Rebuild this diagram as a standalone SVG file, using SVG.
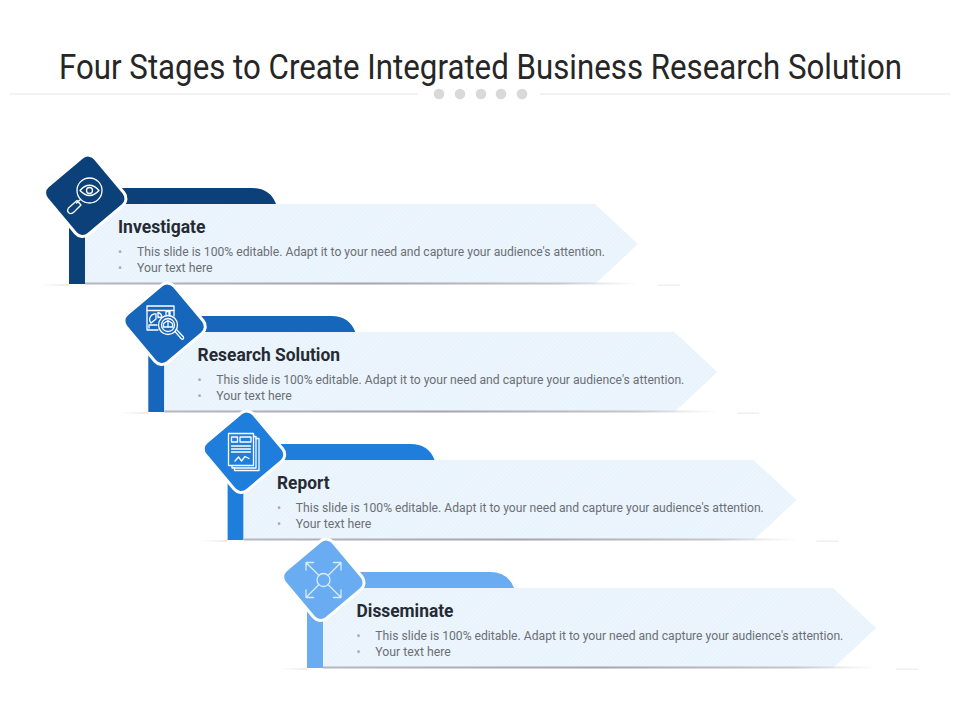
<svg xmlns="http://www.w3.org/2000/svg" width="960" height="720" viewBox="0 0 960 720">
<style>
text{font-family:Roboto,"Liberation Sans",sans-serif}
.title{font-size:34.5px;fill:#262626}
.head{font-size:18px;font-weight:700;fill:#262b33}
.body{font-size:12.500px;fill:#6b6f75}
.bullet{font-size:12px;fill:#a6a9ad}
.ic{fill:none;stroke:#fff;stroke-width:1.300;stroke-linejoin:round;stroke-linecap:round}
.ic2{fill:none;stroke:#d8ecff;stroke-width:1.300;stroke-linejoin:round;stroke-linecap:round}
.diamond{stroke:#fff;stroke-width:3}
.dot{fill:#d9d9d9}
.rule{stroke:#e4e4e4;stroke-width:1}
</style>
<defs>
<pattern id="hatch" width="3" height="3" patternUnits="userSpaceOnUse" patternTransform="rotate(45)">
<rect width="3" height="3" fill="#eef6fd"/>
<rect width="1.500" height="3" fill="#e7f2fc"/>
</pattern>
<linearGradient id="floor" x1="0" x2="1" y1="0" y2="0">
<stop offset="0" stop-color="#b4b8bc"/>
<stop offset="0.5" stop-color="#a2a6aa"/>
<stop offset="0.85" stop-color="#c4c7ca"/>
<stop offset="1" stop-color="#d8dadc" stop-opacity="0"/>
</linearGradient>
<linearGradient id="glowL" x1="0" x2="1" y1="0" y2="0">
<stop offset="0" stop-color="#eeeeee" stop-opacity="0"/>
<stop offset="1" stop-color="#ececec"/>
</linearGradient>
<g id="band">
<path d="M69 284V188H252Q270 188 276 204H85V284Z" fill="currentColor"/>
<path d="M85 204H595L638 244L595 284H85Z" fill="url(#hatch)"/>
<rect x="85" y="282.500" width="555" height="2" fill="url(#floor)"/>
<rect x="40" y="284" width="29" height="2" fill="url(#glowL)"/>
<rect x="658" y="284.500" width="22" height="1.500" fill="#f0f0f0"/>
</g>
</defs>
<rect width="960" height="720" fill="#fff"/>
<g id="title">
<text class="title" transform="translate(59 79) scale(0.906 1)">Four Stages to Create Integrated Business Research Solution</text>
<line class="rule" x1="10" y1="94" x2="418" y2="94"/>
<line class="rule" x1="540" y1="94" x2="950" y2="94"/>
<circle class="dot" cx="439" cy="94" r="5.300"/>
<circle class="dot" cx="460" cy="94" r="5.300"/>
<circle class="dot" cx="481" cy="94" r="5.300"/>
<circle class="dot" cx="501" cy="94" r="5.300"/>
<circle class="dot" cx="522" cy="94" r="5.300"/>
</g>
<g id="connectors"></g>

<g id="node-investigate" color="#0b4079">
<use href="#band"/>
<rect class="diamond" x="-31.500" y="-31.500" width="63" height="63" rx="9" transform="translate(85.300 195.800) rotate(50)" fill="#0b4079"/>
<g class="ic">
<circle cx="89.500" cy="190.500" r="12.500"/>
<path d="M80 190.500Q89.500 180 99 190.500Q89.500 200.500 80 190.500Z"/>
<circle cx="89.500" cy="190.500" r="3"/>
<path d="M80.500 199.500L76.500 203M77 200.500L68.500 208Q66.500 211 69 213Q71.500 214.500 74 212L81 205Z"/>
</g>
<text class="head" x="118" y="232.500" textLength="87.500" lengthAdjust="spacingAndGlyphs">Investigate</text>
<text class="bullet" x="118" y="256">•</text>
<text class="body" x="137" y="256" textLength="468" lengthAdjust="spacingAndGlyphs">This slide is 100% editable. Adapt it to your need and capture your audience's attention.</text>
<text class="bullet" x="118" y="272">•</text>
<text class="body" x="137" y="272" textLength="75.500" lengthAdjust="spacingAndGlyphs">Your text here</text>
</g>

<g id="node-research-solution" color="#1666bc">
<use href="#band" x="79.300" y="128"/>
<rect class="diamond" x="-31.500" y="-31.500" width="63" height="63" rx="9" transform="translate(164.600 323.800) rotate(50)" fill="#1666bc"/>
<g class="ic">
<path d="M158 330H147V306H174V316"/>
<line x1="147" y1="310.500" x2="174" y2="310.500"/>
<path d="M151 323A5.500 5.500 0 0 1 156 314L156 319Z"/>
<path d="M158 312.500A5.500 5.500 0 0 1 162 317L158 317.500Z"/>
<path d="M149 328V325H157"/>
<path d="M166 315V311.500H169V315M170 316V311"/>
<circle cx="168" cy="325" r="9.500"/>
<circle cx="168" cy="325" r="6.500"/>
<path d="M163.500 327V323.500L168 320.500L172.500 323.500V327ZM168 320.500V327"/>
<path d="M175 331.500L181.500 339Q184 340 183.500 337L177 330"/>
</g>
<text class="head" x="197.500" y="360.500" textLength="142.500" lengthAdjust="spacingAndGlyphs">Research Solution</text>
<text class="bullet" x="197.500" y="384">•</text>
<text class="body" x="216.300" y="384" textLength="468" lengthAdjust="spacingAndGlyphs">This slide is 100% editable. Adapt it to your need and capture your audience's attention.</text>
<text class="bullet" x="197.500" y="400">•</text>
<text class="body" x="216.300" y="400" textLength="75.500" lengthAdjust="spacingAndGlyphs">Your text here</text>
</g>

<g id="node-report" color="#1f7edb">
<use href="#band" x="158.600" y="256"/>
<rect class="diamond" x="-31.500" y="-31.500" width="63" height="63" rx="9" transform="translate(244 451.800) rotate(50)" fill="#1f7edb"/>
<g class="ic">
<rect x="228.500" y="433.500" width="25" height="32"/>
<path d="M253.500 436.500H256V468H232V465.500"/>
<path d="M256 438.500H259V470.500H234.500V468"/>
<rect x="231.500" y="437" width="6" height="5"/>
<rect x="240" y="437" width="11" height="5"/>
<path d="M231.500 446H250.500M231.500 449H250.500M231.500 452H250.500"/>
<path d="M235 461L238.500 457L241.500 461L245 456.500L249 458.500"/>
</g>
<text class="head" x="277" y="488.500" textLength="52.500" lengthAdjust="spacingAndGlyphs">Report</text>
<text class="bullet" x="277" y="512">•</text>
<text class="body" x="295.800" y="512" textLength="468" lengthAdjust="spacingAndGlyphs">This slide is 100% editable. Adapt it to your need and capture your audience's attention.</text>
<text class="bullet" x="277" y="528">•</text>
<text class="body" x="295.800" y="528" textLength="75.500" lengthAdjust="spacingAndGlyphs">Your text here</text>
</g>

<g id="node-disseminate" color="#69acf1">
<use href="#band" x="238" y="384"/>
<rect class="diamond" x="-31.500" y="-31.500" width="63" height="63" rx="9" transform="translate(323.400 579.800) rotate(50)" fill="#69acf1"/>
<g class="ic2">
<circle cx="323.500" cy="580" r="6.500"/>
<path d="M319 575.500L306 562.500M306 570V562.500H313.500M328 575.500L341 562.500M333.500 562.500H341V570M319 584.500L306 597.500M306 590V597.500H313.500M328 584.500L341 597.500M333.500 597.500H341V590"/>
</g>
<text class="head" x="356.500" y="616.500" textLength="97" lengthAdjust="spacingAndGlyphs">Disseminate</text>
<text class="bullet" x="356.500" y="640">•</text>
<text class="body" x="375.300" y="640" textLength="468" lengthAdjust="spacingAndGlyphs">This slide is 100% editable. Adapt it to your need and capture your audience's attention.</text>
<text class="bullet" x="356.500" y="656">•</text>
<text class="body" x="375.300" y="656" textLength="75.500" lengthAdjust="spacingAndGlyphs">Your text here</text>
</g>
</svg>
